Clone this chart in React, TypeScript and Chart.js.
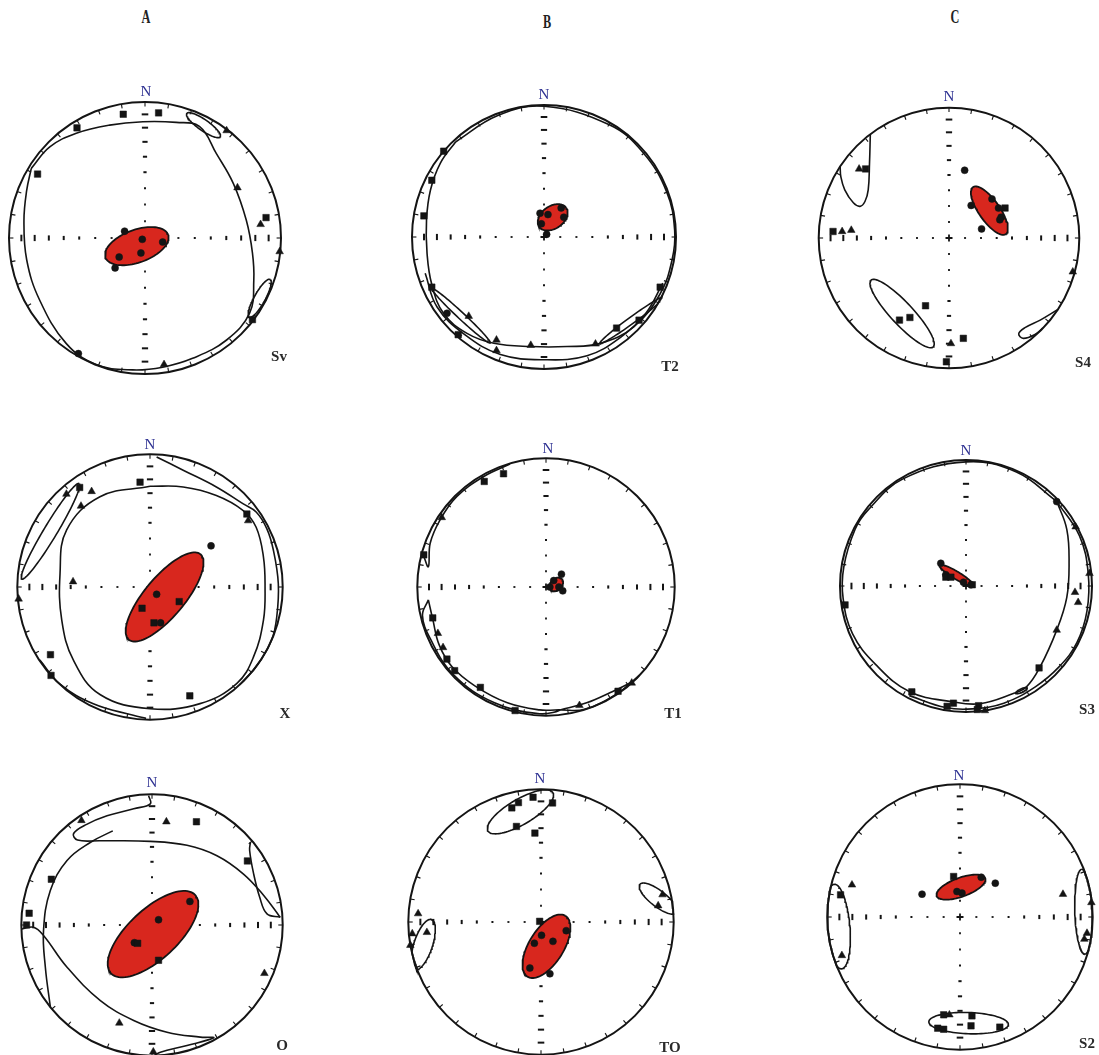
import React, { useEffect, useRef } from "react";
import { Chart, registerables } from "chart.js";
Chart.register(...registerables);

type P = [number, number];
type E = [number, number, number, number, number]; // cx, cy, semi-axis a, semi-axis b, rotation deg

// ---------- data (net coordinates: east, north; primitive radius = 1) ----------
const COLUMNS = ["A", "B", "C"];
const SITES = ["Sv", "T2", "S4", "X", "T1", "S3", "O", "TO", "S2"];
const AXIS_INC = [10, 20, 30, 40, 50, 60, 70, 80];
const AXIS_TICK_HALF = [3.3, 3.1, 2.6, 2.1, 1.6, 1, 0.9, 0.9];
const RIM_AZ = [0, 10, 20, 30, 40, 50, 60, 70, 80, 90, 100, 110, 120, 130, 140, 150, 160, 170, 180, 190, 200, 210, 220, 230, 240, 250, 260, 270, 280, 290, 300, 310, 320, 330, 340, 350];

// Sv
const SV_SQ: P[] = [[-0.16, 0.91], [0.10, 0.92], [-0.50, 0.81], [-0.79, 0.47], [0.89, 0.15], [0.79, -0.60]];
const SV_TR: P[] = [[0.60, 0.79], [0.68, 0.37], [0.85, 0.10], [0.99, -0.10], [0.14, -0.93]];
const SV_CI: P[] = [[-0.15, 0.05], [-0.02, -0.01], [0.13, -0.03], [-0.19, -0.14], [-0.03, -0.11], [-0.22, -0.22], [-0.49, -0.85]];
const SV_MEAN: E = [-0.06, -0.06, 0.245, 0.12, 20];
const SV_CONES: E[] = [[0.43, 0.83, 0.15, 0.04, -35], [0.843, -0.444, 0.16, 0.04, 61]];
const SV_CURVES: P[][] = [[
  [-0.836, 0.512], [-0.70, 0.67], [-0.505, 0.77], [-0.26, 0.83], [-0.015, 0.855], [0.23, 0.85], [0.40, 0.82],
  [0.525, 0.62], [0.65, 0.40], [0.745, 0.13], [0.79, -0.11], [0.80, -0.31], [0.77, -0.55], [0.60, -0.75],
  [0.35, -0.885], [0.13, -0.95], [-0.09, -0.97], [-0.36, -0.93], [-0.58, -0.775], [-0.775, -0.456],
  [-0.87, -0.16], [-0.89, 0.13], [-0.87, 0.35], [-0.836, 0.512],
]];

// T2
const T2_SQ: P[] = [[-0.76, 0.65], [-0.85, 0.43], [-0.91, 0.16], [-0.85, -0.38], [-0.65, -0.74], [0.55, -0.69], [0.72, -0.63], [0.88, -0.38]];
const T2_TR: P[] = [[-0.57, -0.60], [-0.36, -0.78], [-0.36, -0.86], [-0.10, -0.82], [0.39, -0.81]];
const T2_CI: P[] = [[-0.03, 0.18], [0.03, 0.17], [-0.02, 0.10], [0.13, 0.22], [0.15, 0.15], [0.02, 0.02], [-0.735, -0.578]];
const T2_MEAN: E = [0.066, 0.149, 0.125, 0.085, 35];
const T2_CONES: E[] = [[-0.628, -0.597, 0.30, 0.025, -43], [0.667, -0.629, 0.30, 0.025, 36]];
const T2_CURVES: P[][] = [
  [[-0.67, 0.72], [-0.785, 0.56], [-0.86, 0.356], [-0.89, 0.13], [-0.886, -0.124], [-0.85, -0.36], [-0.76, -0.58],
   [-0.583, -0.73], [-0.38, -0.805], [-0.10, -0.83], [0.174, -0.83], [0.427, -0.806], [0.68, -0.68], [0.88, -0.43],
   [0.97, -0.174], [0.99, 0.05], [0.93, 0.34], [0.75, 0.64], [0.495, 0.85], [0.0, 0.99], [-0.35, 0.92], [-0.67, 0.72]],
  [[-0.90, -0.275], [-0.81, -0.53], [-0.60, -0.74], [-0.33, -0.89], [0, -0.93], [0.326, -0.90], [0.58, -0.76], [0.77, -0.58], [0.90, -0.35]],
];

// S4
const S4_SQ: P[] = [[-0.64, 0.53], [-0.89, 0.05], [-0.18, -0.52], [-0.30, -0.61], [-0.38, -0.63], [0.11, -0.77], [-0.02, -0.95], [0.43, 0.23]];
const S4_TR: P[] = [[-0.69, 0.53], [-0.82, 0.05], [-0.75, 0.06], [0.95, -0.26], [0.015, -0.81]];
const S4_CI: P[] = [[0.12, 0.52], [0.33, 0.30], [0.17, 0.25], [0.38, 0.23], [0.40, 0.16], [0.39, 0.14], [0.25, 0.07]];
const S4_MEAN: E = [0.31, 0.21, 0.22, 0.08, -55];
const S4_CONES: E[] = [[-0.36, -0.58, 0.35, 0.085, -47]];
const S4_CURVES: P[][] = [
  [[-0.606, 0.80], [-0.61, 0.575], [-0.62, 0.37], [-0.645, 0.28], [-0.683, 0.243], [-0.734, 0.27], [-0.80, 0.37], [-0.83, 0.47], [-0.836, 0.55]],
  [[0.84, -0.55], [0.70, -0.63], [0.58, -0.69], [0.535, -0.735], [0.57, -0.77], [0.66, -0.74], [0.72, -0.69]],
];

// X
const X_SQ: P[] = [[-0.53, 0.75], [-0.075, 0.79], [0.73, 0.55], [-0.75, -0.51], [-0.75, -0.67], [0.30, -0.82], [-0.06, -0.16], [0.03, -0.27], [0.22, -0.11]];
const X_TR: P[] = [[-0.63, 0.70], [-0.44, 0.72], [-0.52, 0.61], [0.74, 0.50], [-0.58, 0.04], [-0.99, -0.09]];
const X_CI: P[] = [[0.46, 0.31], [0.05, -0.055], [0.08, -0.27]];
const X_MEAN: E = [0.11, -0.075, 0.42, 0.15, 50];
const X_CONES: E[] = [[-0.75, 0.42, 0.42, 0.05, 59]];
const X_CURVES: P[][] = [
  [[0, 0.759], [0.25, 0.754], [0.50, 0.69], [0.70, 0.578], [0.80, 0.45], [0.855, 0.226], [0.867, 0], [0.855, -0.25], [0.78, -0.527],
   [0.653, -0.728], [0.377, -0.879], [0, -0.917], [-0.377, -0.81], [-0.578, -0.55], [-0.665, -0.25], [-0.678, 0.10], [-0.628, 0.43],
   [-0.377, 0.68], [0, 0.759]],
  [[0.05, 0.98], [0.25, 0.88], [0.50, 0.754], [0.70, 0.628], [0.80, 0.565], [0.88, 0.44], [0.93, 0.277], [0.967, 0.025], [0.955, -0.226],
   [0.917, -0.40], [0.83, -0.60], [0.678, -0.74]],
  [[-0.83, -0.55], [-0.68, -0.73], [-0.427, -0.88], [-0.126, -0.967], [-0.03, -0.99]],
];

// T1
const T1_SQ: P[] = [[-0.33, 0.88], [-0.48, 0.82], [-0.95, 0.25], [-0.88, -0.24], [-0.77, -0.56], [-0.71, -0.65], [-0.51, -0.78], [-0.24, -0.96], [0.56, -0.81]];
const T1_TR: P[] = [[-0.81, 0.54], [-0.84, -0.36], [-0.80, -0.47], [0.26, -0.92], [0.67, -0.75]];
const T1_CI: P[] = [[0.06, 0.05], [0.12, 0.10], [0.10, 0.0], [0.13, -0.03], [0.03, 0.0]];
const T1_MEAN: E = [0.08, 0.02, 0.06, 0.045, 45];
const T1_CONES: E[] = [];
const T1_CURVES: P[][] = [
  [[-0.28, 0.955], [-0.487, 0.857], [-0.694, 0.702], [-0.824, 0.52], [-0.90, 0.34], [-0.914, 0.158], [-0.956, 0.256]],
  [[-0.914, -0.10], [-0.88, -0.25], [-0.83, -0.45], [-0.73, -0.62], [-0.55, -0.77], [-0.30, -0.90], [-0.05, -0.955], [0.109, -0.956],
   [-0.05, -0.985], [-0.40, -0.90], [-0.72, -0.68], [-0.90, -0.40], [-0.96, -0.22], [-0.914, -0.10]],
  [[0.109, -0.956], [0.316, -0.90], [0.50, -0.82], [0.66, -0.74], [0.72, -0.69], [0.55, -0.83], [0.30, -0.95], [0.109, -0.956]],
];

// S3
const S3_SQ: P[] = [[-0.96, -0.15], [-0.43, -0.84], [-0.10, -0.93], [-0.15, -0.955], [0.10, -0.95], [0.09, -0.98], [0.58, -0.65], [0.05, 0.01], [-0.16, 0.07], [-0.12, 0.07]];
const S3_TR: P[] = [[0.98, 0.10], [0.865, -0.05], [0.89, -0.13], [0.15, -0.99], [0.72, -0.35], [0.87, 0.47]];
const S3_CI: P[] = [[-0.20, 0.18], [-0.16, 0.09], [-0.02, 0.03], [0.04, 0.01], [0.72, 0.67]];
const S3_MEAN: E = [-0.077, 0.085, 0.154, 0.03, -31];
const S3_CONES: E[] = [[0.44, -0.83, 0.05, 0.014, 25]];
const S3_CURVES: P[][] = [
  [[0.72, 0.672], [0.80, 0.45], [0.818, 0.18], [0.80, -0.09], [0.72, -0.35], [0.585, -0.648], [0.48, -0.80], [0.37, -0.855],
   [0.11, -0.934], [-0.10, -0.92], [-0.447, -0.84], [-0.72, -0.62], [-0.90, -0.38], [-0.975, -0.10], [-0.97, 0.15],
   [-0.88, 0.45], [-0.78, 0.60], [-0.50, 0.85], [0, 0.985], [0.40, 0.905], [0.72, 0.672]],
  [[0.72, 0.672], [0.90, 0.40], [0.97, 0.10], [0.96, -0.20], [0.88, -0.45], [0.74, -0.64], [0.55, -0.80], [0.30, -0.93], [0.05, -0.975], [-0.16, -0.965], [-0.45, -0.87]],
];

// O
const O_SQ: P[] = [[0.34, 0.79], [0.73, 0.49], [-0.77, 0.35], [-0.94, 0.09], [-0.96, 0.0], [-0.11, -0.14], [0.05, -0.27]];
const O_TR: P[] = [[-0.54, 0.80], [0.11, 0.79], [0.86, -0.37], [-0.25, -0.75], [0.01, -0.97]];
const O_CI: P[] = [[0.29, 0.18], [0.05, 0.04], [-0.135, -0.135]];
const O_MEAN: E = [0.008, -0.07, 0.44, 0.19, 43];
const O_CONES: E[] = [];
const O_CURVES: P[][] = [
  [[-0.026, 0.99], [-0.013, 0.927], [-0.14, 0.89], [-0.344, 0.835], [-0.50, 0.77], [-0.60, 0.70], [-0.57, 0.65], [-0.395, 0.645],
   [-0.013, 0.64], [0.268, 0.61], [0.497, 0.53], [0.70, 0.39], [0.855, 0.226], [0.98, 0.06]],
  [[-0.30, 0.72], [-0.47, 0.633], [-0.65, 0.494], [-0.778, 0.264], [-0.83, -0.042], [-0.816, -0.323], [-0.778, -0.629]],
  [[0.753, 0.634], [0.747, 0.57], [0.778, 0.39], [0.824, 0.213], [0.88, 0.085], [0.982, 0.06]],
  [[-0.995, -0.03], [-0.906, -0.017], [-0.83, -0.08], [-0.65, -0.323], [-0.395, -0.578], [-0.14, -0.73], [0.115, -0.82],
   [0.37, -0.858], [0.472, -0.863], [0.268, -0.922], [0.064, -0.973], [0.018, -0.998]],
];

// TO
const TO_SQ: P[] = [[-0.17, 0.90], [-0.22, 0.86], [-0.06, 0.94], [0.087, 0.897], [-0.185, 0.72], [-0.046, 0.67], [-0.01, 0.005]];
const TO_TR: P[] = [[-0.926, 0.063], [-0.97, -0.088], [-0.86, -0.078], [-0.99, -0.176], [0.916, 0.206], [0.883, 0.123]];
const TO_CI: P[] = [[0.004, -0.10], [-0.05, -0.16], [0.09, -0.146], [0.19, -0.065], [-0.084, -0.347], [0.067, -0.39]];
const TO_MEAN: E = [0.041, -0.183, 0.27, 0.13, 58];
const TO_CONES: E[] = [[-0.155, 0.83, 0.284, 0.095, 30.5], [0.883, 0.176, 0.175, 0.06, -38], [-0.888, -0.171, 0.20, 0.07, 71.6]];
const TO_CURVES: P[][] = [];

// S2
const S2_SQ: P[] = [[-0.048, 0.305], [-0.90, 0.167], [-0.123, -0.737], [0.09, -0.745], [-0.168, -0.838], [-0.123, -0.846], [0.083, -0.82], [0.30, -0.83]];
const S2_TR: P[] = [[-0.814, 0.242], [0.776, 0.172], [0.99, 0.109], [0.957, -0.122], [0.937, -0.167], [-0.89, -0.29], [-0.08, -0.737]];
const S2_CI: P[] = [[-0.286, 0.172], [0.16, 0.30], [0.266, 0.255], [-0.023, 0.192], [0.015, 0.18]];
const S2_MEAN: E = [0.0075, 0.225, 0.195, 0.071, 20];
const S2_CONES: E[] = [[-0.92, -0.072, 0.32, 0.09, 95], [0.93, 0.04, 0.32, 0.065, 92], [0.065, -0.80, 0.30, 0.08, -2]];
const S2_CURVES: P[][] = [];

// ---------- layout (pixels) ----------
// centre x, centre y, primitive radius
const NET_LAYOUT: [number, number, number][] = [
  [145.3, 238, 136], [543.7, 237, 132], [949, 238.3, 130.3],
  [150, 586.7, 132.7], [546, 587, 128.7], [966.3, 585.7, 126],
  [151.7, 924.5, 130.7], [541.2, 922.3, 132.7], [959.7, 917.2, 132.7],
];
const N_POS: P[] = [[146, 91], [544, 94], [949, 96], [150, 444], [548, 448], [966, 450], [152, 782], [540, 778], [959, 775]];
const SITE_POS: P[] = [[279, 356], [670, 366], [1083, 362], [285, 713], [673, 713], [1087, 709], [282, 1045], [670, 1047], [1087, 1043]];
const COL_POS: P[] = [[146, 17], [547, 22], [955, 17]];

const PANELS = [
  { sq: SV_SQ, tr: SV_TR, ci: SV_CI, mean: SV_MEAN, cones: SV_CONES, curves: SV_CURVES },
  { sq: T2_SQ, tr: T2_TR, ci: T2_CI, mean: T2_MEAN, cones: T2_CONES, curves: T2_CURVES },
  { sq: S4_SQ, tr: S4_TR, ci: S4_CI, mean: S4_MEAN, cones: S4_CONES, curves: S4_CURVES },
  { sq: X_SQ, tr: X_TR, ci: X_CI, mean: X_MEAN, cones: X_CONES, curves: X_CURVES },
  { sq: T1_SQ, tr: T1_TR, ci: T1_CI, mean: T1_MEAN, cones: T1_CONES, curves: T1_CURVES },
  { sq: S3_SQ, tr: S3_TR, ci: S3_CI, mean: S3_MEAN, cones: S3_CONES, curves: S3_CURVES },
  { sq: O_SQ, tr: O_TR, ci: O_CI, mean: O_MEAN, cones: O_CONES, curves: O_CURVES },
  { sq: TO_SQ, tr: TO_TR, ci: TO_CI, mean: TO_MEAN, cones: TO_CONES, curves: TO_CURVES },
  { sq: S2_SQ, tr: S2_TR, ci: S2_CI, mean: S2_MEAN, cones: S2_CONES, curves: S2_CURVES },
];

const HALF = 150;
const INK = "#141414";
const RED = "#d8271e";
const NAVY = "#2e3192";

const toXY = (p: P) => {
  const r = Math.hypot(p[0], p[1]);
  return r > 1 ? { x: p[0] / r, y: p[1] / r } : { x: p[0], y: p[1] };
};

function ellipseOutline(e: E) {
  const [cx, cy, a, b, rot] = e;
  const rr = (rot * Math.PI) / 180;
  const pts: { x: number; y: number }[] = [];
  const n = 96;
  for (let i = 0; i <= n; i++) {
    const t = (2 * Math.PI * i) / n;
    const ex = a * Math.cos(t);
    const ey = b * Math.sin(t);
    pts.push(toXY([cx + ex * Math.cos(rr) - ey * Math.sin(rr), cy + ex * Math.sin(rr) + ey * Math.cos(rr)]));
  }
  return pts;
}

function buildConfig(idx: number): any {
  const panel = PANELS[idx];
  const R = NET_LAYOUT[idx][2];
  const lim = HALF / R;
  const datasets: any[] = [];

  // primitive circle
  datasets.push({
    data: [{ x: 0, y: 0 }], pointStyle: "circle", pointRadius: R, pointBackgroundColor: "rgba(0,0,0,0)",
    pointBorderColor: INK, pointBorderWidth: 2, order: 5,
  });
  // rim graduation every 10 degrees
  const rimIn = 1 - 2.2 / R;
  datasets.push({
    data: RIM_AZ.map((az) => ({ x: rimIn * Math.sin((az * Math.PI) / 180), y: rimIn * Math.cos((az * Math.PI) / 180), rot: az - 90 })),
    pointStyle: "line", pointRadius: 2.2, pointRotation: (c: any) => c.raw.rot,
    pointBorderColor: INK, pointBorderWidth: 1.1, order: 9,
  });
  // axis graduations (equal-area inclination marks)
  const axisPts: any[] = [];
  AXIS_INC.forEach((inc, i) => {
    const r = Math.SQRT2 * Math.sin(((90 - inc) / 2) * (Math.PI / 180));
    const h = AXIS_TICK_HALF[i];
    axisPts.push({ x: r, y: 0, h, rot: 90 }, { x: -r, y: 0, h, rot: 90 }, { x: 0, y: r, h, rot: 0 }, { x: 0, y: -r, h, rot: 0 });
  });
  datasets.push({
    data: axisPts, pointStyle: "line", pointRadius: (c: any) => c.raw.h, pointRotation: (c: any) => c.raw.rot,
    pointBorderColor: INK, pointBorderWidth: 2, order: 9,
  });
  // centre cross
  datasets.push({
    data: [{ x: 0, y: 0 }], pointStyle: "cross", pointRadius: 3.5, pointBorderColor: INK, pointBorderWidth: 1.8, order: 9,
  });
  // confidence cones
  panel.cones.forEach((c) => {
    datasets.push({
      data: ellipseOutline(c), showLine: true, pointRadius: 0, borderColor: INK, borderWidth: 1.6, tension: 0, fill: false, order: 8,
    });
  });
  // traced curves
  panel.curves.forEach((cv) => {
    datasets.push({
      data: cv.map(toXY), showLine: true, pointRadius: 0, borderColor: INK, borderWidth: 1.6, tension: 0.4, fill: false, order: 8,
    });
  });
  // mean ellipse (k3)
  datasets.push({
    data: ellipseOutline(panel.mean), showLine: true, pointRadius: 0, borderColor: INK, borderWidth: 1.8,
    backgroundColor: RED, fill: "shape", tension: 0, order: 4,
  });
  // symbols
  datasets.push({
    data: panel.sq.map(toXY), pointStyle: "rect", pointRadius: 4.6, pointBackgroundColor: INK, pointBorderColor: INK, pointBorderWidth: 0.5, order: 1,
  });
  datasets.push({
    data: panel.tr.map(toXY), pointStyle: "triangle", pointRadius: 4.4, pointBackgroundColor: INK, pointBorderColor: INK, pointBorderWidth: 0.5, order: 1,
  });
  datasets.push({
    data: panel.ci.map(toXY), pointStyle: "circle", pointRadius: 3.5, pointBackgroundColor: INK, pointBorderColor: INK, pointBorderWidth: 0.5, order: 1,
  });
  datasets.forEach((d) => { d.clip = false; });

  return {
    type: "scatter",
    data: { datasets },
    options: {
      animation: false,
      responsive: false,
      devicePixelRatio: 1,
      events: [],
      layout: { padding: 0, autoPadding: false },
      plugins: { legend: { display: false }, tooltip: { enabled: false }, title: { display: false } },
      scales: {
        x: { type: "linear", min: -lim, max: lim, display: false },
        y: { type: "linear", min: -lim, max: lim, display: false },
      },
    },
  };
}

function Net({ idx }: { idx: number }) {
  const ref = useRef<HTMLCanvasElement | null>(null);
  useEffect(() => {
    if (!ref.current) return;
    const chart = new Chart(ref.current, buildConfig(idx));
    return () => chart.destroy();
  }, [idx]);
  const [cx, cy] = NET_LAYOUT[idx];
  return (
    <canvas
      ref={ref}
      width={HALF * 2}
      height={HALF * 2}
      style={{ position: "absolute", left: cx - HALF, top: cy - HALF, width: HALF * 2, height: HALF * 2 }}
    />
  );
}

const centred = (x: number, y: number): React.CSSProperties => ({
  position: "absolute", left: x, top: y, transform: "translate(-50%, -50%)", lineHeight: 1, whiteSpace: "nowrap",
});

export default function App() {
  return (
    <div style={{ position: "absolute", left: 0, top: 0, width: 1099, height: 1055, overflow: "hidden", background: "#fff" }}>
      {SITES.map((_, i) => <Net key={i} idx={i} />)}
      {COLUMNS.map((c, i) => (
        <div key={c} style={{ ...centred(COL_POS[i][0], COL_POS[i][1]), fontFamily: "'Liberation Serif', serif", fontWeight: 700, fontSize: 18, color: "#222" }}>
          <span style={{ display: "inline-block", transform: "scaleX(0.68)" }}>{c}</span>
        </div>
      ))}
      {SITES.map((s, i) => (
        <div key={"n" + s} style={{ ...centred(N_POS[i][0], N_POS[i][1]), fontFamily: "'Liberation Serif', serif", fontSize: 15, color: NAVY }}>N</div>
      ))}
      {SITES.map((s, i) => (
        <div key={"s" + s} style={{ ...centred(SITE_POS[i][0], SITE_POS[i][1]), fontFamily: "'Liberation Serif', serif", fontWeight: 700, fontSize: 15, color: "#2a2a2a" }}>{s}</div>
      ))}
    </div>
  );
}
